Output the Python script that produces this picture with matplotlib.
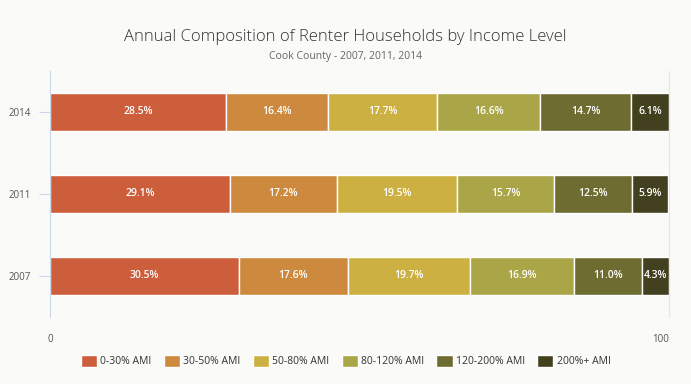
import matplotlib.pyplot as plt
import numpy as np

years = ['2007', '2011', '2014']
groups = ['0-30% AMI', '30-50% AMI', '50-80% AMI', '80-120% AMI', '120-200% AMI', '200%+ AMI']
values = [
    [30.5, 29.1, 28.5],  # 0-30
    [17.6, 17.2, 16.4],  # 30-50
    [19.7, 19.5, 17.7],  # 50-80
    [16.9, 15.7, 16.6],  # 80-120
    [11.0, 12.5, 14.7],  # 120-200
    [4.3, 5.9, 6.1],     # 200+
]
colors = ['#CD5E3C', '#CD8A3E', '#CCB042', '#AAA648', '#6E6C30', '#43401F']

plt.rcParams['font.family'] = ['Open Sans', 'DejaVu Sans']
bg = '#FAFAF8'
fig = plt.figure(figsize=(6.91, 3.84), dpi=100, facecolor=bg)
ax = fig.add_axes([50/691, 1-317/384, 619/691, 246/384], facecolor=bg)

y = np.arange(len(years))
left = np.zeros(len(years))
for g, vals, c in zip(groups, values, colors):
    ax.barh(y, vals, left=left, height=0.47, color=c, edgecolor='white', linewidth=1, label=g)
    for yi, l, v in zip(y, left, vals):
        ax.text(l + v/2, yi, f'{v:.1f}%', ha='center', va='center', color='white', fontsize=7.5, fontweight='semibold')
    left += np.array(vals)

ax.set_xlim(0, 100)
ax.set_ylim(-0.5, 2.5)
ax.set_yticks(y)
ax.set_yticklabels(years)
ax.set_xticks([0, 100])
ax.tick_params(axis='y', length=8, color='#CCD6EB', labelsize=7, labelcolor='#555555', pad=6)
ax.tick_params(axis='x', length=0, labelsize=7, labelcolor='#555555', pad=12)
xl = ax.get_xticklabels()
xl[-1].set_ha('right')
for s in ['top', 'bottom']:
    ax.spines[s].set_visible(False)
ax.spines['left'].set_color('#CCD6EB')
ax.spines['right'].set_color('#E6E6E6')

fig.text(0.5, 1-37/384, 'Annual Composition of Renter Households by Income Level', ha='center', va='center',
         fontsize=12, color='#333333', fontweight='light')
fig.text(0.5, 1-56/384, 'Cook County - 2007, 2011, 2014', ha='center', va='center', fontsize=7.5, color='#666666')

fig.legend(loc='center', bbox_to_anchor=(0.5, 1-361/384), ncol=6, frameon=False, fontsize=7.5,
           handlelength=1.55, handleheight=1.35, columnspacing=1.2, handletextpad=0.3, labelcolor='#333333')

fig.savefig('out.png', dpi=100, facecolor=bg)
